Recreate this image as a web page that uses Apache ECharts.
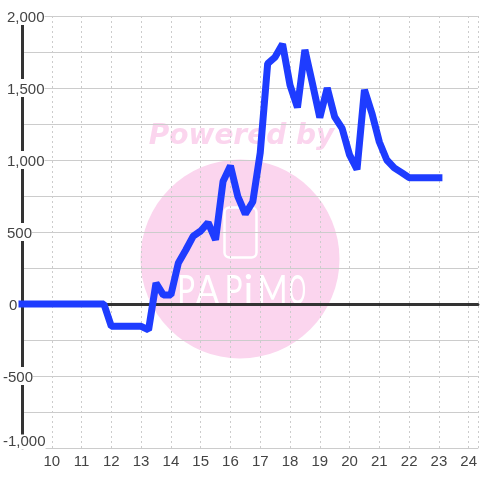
<!DOCTYPE html>
<html>
<head>
<meta charset="utf-8">
<style>html,body{margin:0;padding:0;background:#fff}#c{width:480px;height:480px}</style>
<script src="https://cdn.jsdelivr.net/npm/echarts@6/dist/echarts.min.js"></script>
</head>
<body>
<div id="c"></div>
<script>
const hours = [9,9.25,9.5,9.75,10,10.25,10.5,10.75,11,11.25,11.5,11.75,12,12.25,12.5,12.75,13,13.25,13.5,13.75,14,14.25,14.5,14.75,15,15.25,15.5,15.75,16,16.25,16.5,16.75,17,17.25,17.5,17.75,18,18.25,18.5,18.75,19,19.25,19.5,19.75,20,20.25,20.5,20.75,21,21.25,21.5,21.75,22,22.25,22.5,22.75,23];
const profit = [0,0,0,0,0,0,0,0,0,0,0,0,-155,-155,-155,-155,-155,-180,145,62,62,285,375,472,507,565,445,850,960,745,625,710,1050,1670,1715,1805,1520,1365,1765,1535,1295,1500,1300,1220,1035,935,1487,1325,1125,1000,945,912,877,877,877,877,877];
const logoLetters = ['P','A','P','i','M','O'];
const logoCentres = [186,207.5,233.5,248.5,272.5,297.5];
const logoScales = [0.72,0.85,0.72,1,0.8,0.52];

const pink = '#fbd5ee';
const chart = echarts.init(document.getElementById('c'), null, {renderer:'canvas'});
const graphics = [
  {type:'circle', z:-10, shape:{cx:240,cy:259,r:99.5}, style:{fill:pink}},
  {type:'text', z:-9, x:241.5, y:136.5, style:{text:'Powered by', fill:pink, font:'italic bold 28px "DejaVu Sans"', align:'center', verticalAlign:'middle'}},
  {type:'rect', z:-9, shape:{x:224.5,y:207.5,width:32,height:50,r:5}, style:{fill:'none',stroke:'#fff',lineWidth:2.5}}
];
logoLetters.forEach((ch,i)=>graphics.push({type:'text', z:-9, x:logoCentres[i], y:291, scaleX:logoScales[i], style:{text:ch, fill:'#fff', font:'400 41px "Lato"', align:'center', verticalAlign:'middle'}}));

chart.setOption({
  animation:false,
  backgroundColor:'#fff',
  graphic:graphics,
  grid:{left:20.6,right:0,top:16,height:432,containLabel:false},
  xAxis:[{
    type:'value',min:9,max:24.31,interval:1,position:'bottom',
    axisLine:{show:true,onZero:false,lineStyle:{color:'#ccc',width:1}},
    axisTick:{show:false},
    axisLabel:{show:true,showMinLabel:false,showMaxLabel:false,margin:6,fontSize:15,fontFamily:'"Liberation Sans"',color:'#444',
      formatter:v=>Number.isInteger(v)&&v>9?String(v):''},
    splitLine:{show:true,lineStyle:{color:'#ccc',width:1,type:[2,3]}}
  },{
    type:'value',min:9,max:24.31,interval:1,position:'bottom',
    axisLine:{show:true,onZero:true,lineStyle:{color:'#333',width:3}},
    axisTick:{show:false},axisLabel:{show:false},splitLine:{show:false}
  }],
  yAxis:{
    type:'value',min:-1000,max:2000,interval:500,
    axisLine:{show:true,onZero:false,lineStyle:{color:'#333',width:3}},
    axisTick:{show:false},
    minorTick:{show:false,splitNumber:2},
    minorSplitLine:{show:true,lineStyle:{color:'#ccc',width:1}},
    splitLine:{show:true,lineStyle:{color:'#ccc',width:1}},
    axisLabel:{
      margin:19,align:'left',verticalAlignMinLabel:'bottom',fontSize:15,fontFamily:'"Liberation Sans"',color:'#444',
      formatter:v=>{
        const s=Math.abs(v).toLocaleString('en-US');
        if(v===-1000) return '{low|-'+s+'}';
        return v<0?'{neg|-'+s+'}':(v===0?'{zero|0}':'{pos|'+s+'}');
      },
      rich:{
        low:{fontSize:15,color:'#444',backgroundColor:'#fff',lineHeight:12},
        neg:{fontSize:15,color:'#444',backgroundColor:'#fff',padding:[3,0,0,0]},
        pos:{fontSize:15,color:'#444',backgroundColor:'#fff',padding:[3,0,0,4]},
        zero:{fontSize:15,color:'#444',padding:[3,0,0,6]}
      }
    }
  },
  series:[{
    type:'line',xAxisIndex:0,showSymbol:false,symbol:'none',z:5,clip:false,
    data:hours.map((h,i)=>[h,profit[i]]),
    lineStyle:{color:'#1e3cff',width:7,cap:'square',join:'bevel'}
  }]
});
</script>
</body>
</html>
